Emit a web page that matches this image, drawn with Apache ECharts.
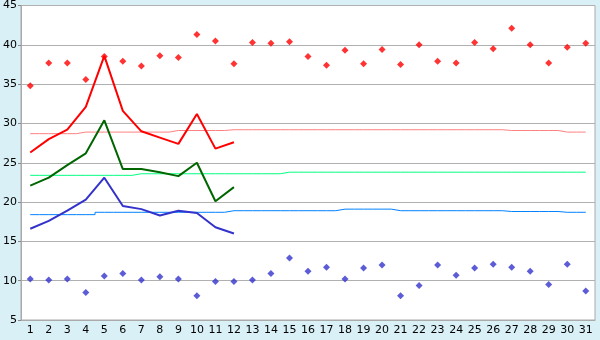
<!DOCTYPE html>
<html><head><meta charset="utf-8">
<script src="https://cdn.jsdelivr.net/npm/echarts@6/dist/echarts.min.js"></script>
<style>html,body{margin:0;padding:0;background:#d9f0f6;}#c{width:600px;height:340px;}</style>
</head><body><div id="c"></div>
<script>
var days = [];
for (var d = 1; d <= 31; d++) days.push(String(d));
var yTicks = [5, 45, 5];

var maxPoints = [34.8,37.7,37.7,35.6,38.5,37.9,37.3,38.6,38.4,41.3,40.5,37.6,40.3,40.2,40.4,38.5,37.4,39.3,37.6,39.4,37.5,40.0,37.9,37.7,40.3,39.5,42.1,40.0,37.7,39.7,40.2];
var minPoints = [10.2,10.1,10.2,8.5,10.6,10.9,10.1,10.5,10.2,8.1,9.9,9.9,10.1,10.9,12.9,11.2,11.7,10.2,11.6,12.0,8.1,9.4,12.0,10.7,11.6,12.1,11.7,11.2,9.5,12.1,8.7];

var maxLine = [26.3,28.0,29.2,32.1,38.6,31.6,29.0,28.2,27.4,31.2,26.8,27.6];
var meanLine = [22.1,23.1,24.7,26.2,30.4,24.2,24.2,23.8,23.3,25.0,20.1,21.9];
var minLine = [16.6,17.6,18.9,20.3,23.1,19.5,19.1,18.3,18.9,18.6,16.8,16.0];

var maxNormal = [28.7,28.7,28.7,28.9,28.9,28.9,28.9,28.9,29.1,29.1,29.1,29.2,29.2,29.2,29.2,29.2,29.2,29.2,29.2,29.2,29.2,29.2,29.2,29.2,29.2,29.2,29.1,29.1,29.1,28.9,28.9];
var meanNormal = [23.4,23.4,23.4,23.4,23.4,23.4,23.6,23.6,23.6,23.6,23.6,23.6,23.6,23.6,23.8,23.8,23.8,23.8,23.8,23.8,23.8,23.8,23.8,23.8,23.8,23.8,23.8,23.8,23.8,23.8,23.8];
var minNormal = [18.4,18.4,18.4,18.4,18.7,18.7,18.7,18.7,18.7,18.7,18.7,18.9,18.9,18.9,18.9,18.9,18.9,19.1,19.1,19.1,18.9,18.9,18.9,18.9,18.9,18.9,18.8,18.8,18.8,18.7,18.7];

var chart = echarts.init(document.getElementById('c'), null, {renderer:'canvas'});
function stepLine(data, color){
  return {type:'line', data:data, step:'middle', symbol:'none', lineStyle:{color:color, width:1}, z:2, silent:true, animation:false};
}
function dataLine(data, color){
  return {type:'line', data:data, symbol:'none', lineStyle:{color:color, width:2}, z:3, silent:true, animation:false};
}
function pts(data, color){
  return {type:'scatter', data:data, symbol:'diamond', symbolSize:7, itemStyle:{color:color}, z:4, silent:true, animation:false};
}
chart.setOption({
  backgroundColor:'#d9f0f6',
  animation:false,
  grid:{left:20, right:5, top:5, bottom:20, show:true, backgroundColor:'#ffffff', borderColor:'#aaaaaa', borderWidth:1},
  xAxis:{type:'category', data:days, boundaryGap:true,
    axisLine:{lineStyle:{color:'#aaaaaa'}},
    axisTick:{alignWithLabel:true, length:4, lineStyle:{color:'#888888'}},
    axisLabel:{color:'#000', fontFamily:'DejaVu Sans', fontSize:11, margin:5, interval:0},
    splitLine:{show:false}},
  yAxis:{type:'value', min:yTicks[0], max:yTicks[1], interval:yTicks[2],
    axisLine:{show:true, lineStyle:{color:'#aaaaaa'}},
    axisTick:{show:true, length:3, lineStyle:{color:'#888888'}},
    axisLabel:{color:'#000', fontFamily:'DejaVu Sans', fontSize:11, margin:4},
    splitLine:{lineStyle:{color:'#b0b0b0', width:1}}},
  series:[
    stepLine(maxNormal,'#ff8080'),
    stepLine(meanNormal,'#00ff80'),
    stepLine(minNormal,'#0080ff'),
    dataLine(maxLine,'#ff0000'),
    dataLine(meanLine,'#006600'),
    dataLine(minLine,'#3333cc'),
    pts(maxPoints,'#ff0000'),
    pts(minPoints,'#3333cc')
  ]
});
</script></body></html>
